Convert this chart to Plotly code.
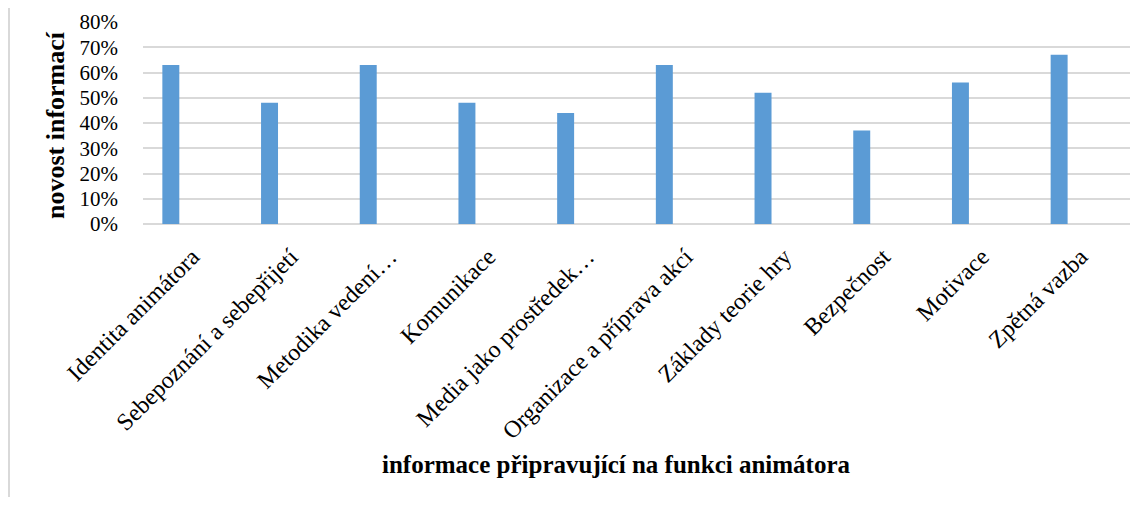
import plotly.graph_objects as go

categories = [
    "Identita animátora",
    "Sebepoznání a sebepřijetí",
    "Metodika vedení…",
    "Komunikace",
    "Media jako prostředek…",
    "Organizace a příprava akcí",
    "Základy teorie hry",
    "Bezpečnost",
    "Motivace",
    "Zpětná vazba",
]
novost = [0.63, 0.48, 0.63, 0.48, 0.44, 0.63, 0.52, 0.37, 0.56, 0.67]
y_ticks = [0, 0.1, 0.2, 0.3, 0.4, 0.5, 0.6, 0.7, 0.8]

FONT = "Liberation Serif, Times New Roman, serif"

# the page body has an 8px margin, so the figure is drawn a bit smaller
W, H = 1131, 489
PX0, PX1, PY0, PY1 = 143, 1130, 22, 224   # plot area in page pixels
PW, PH = PX1 - PX0, PY1 - PY0

fig = go.Figure(go.Bar(
    x=categories,
    y=novost,
    width=0.172,
    offset=-0.304,
    marker=dict(color="#5b9bd5", line=dict(width=0)),
))

fig.update_layout(
    width=W,
    height=H,
    margin=dict(l=PX0 - 8, r=W - (PX1 - 8), t=PY0 - 8, b=H - (PY1 - 8), autoexpand=False),
    paper_bgcolor="white",
    plot_bgcolor="white",
    showlegend=False,
    font=dict(family=FONT, size=20, color="black"),
    xaxis=dict(
        tickangle=-45,
        showgrid=False,
        showline=False,
        ticks="",
        ticklabelstandoff=13,
        tickfont=dict(family=FONT, size=24),
        range=[-0.5, 9.5],
    ),
    yaxis=dict(
        range=[0, 0.8],
        tickvals=y_ticks,
        tickformat=".0%",
        showgrid=True,
        gridcolor="#d9d9d9",
        gridwidth=2,
        zeroline=True,
        zerolinecolor="#d9d9d9",
        zerolinewidth=2,
        ticks="",
        ticklabelstandoff=24,
        tickfont=dict(family=FONT, size=21),
    ),
    annotations=[
        dict(
            text="<b>novost informací</b>",
            xref="paper", yref="paper",
            x=(55 - PX0) / PW, y=(PY1 - 125) / PH,
            xanchor="center", yanchor="middle",
            showarrow=False, textangle=-90,
            font=dict(family=FONT, size=26),
        ),
        dict(
            text="<b>informace připravující na funkci animátora</b>",
            xref="paper", yref="paper",
            x=(616 - PX0) / PW, y=-(464 - PY1) / PH,
            xanchor="center", yanchor="middle",
            showarrow=False,
            font=dict(family=FONT, size=25),
        ),
    ],
    shapes=[
        dict(
            type="line", xref="paper", yref="paper",
            x0=(9 - PX0) / PW, x1=(9 - PX0) / PW,
            y0=-3, y1=3,
            line=dict(color="#d9d9d9", width=2),
        )
    ],
)

fig.write_html("out.html")
